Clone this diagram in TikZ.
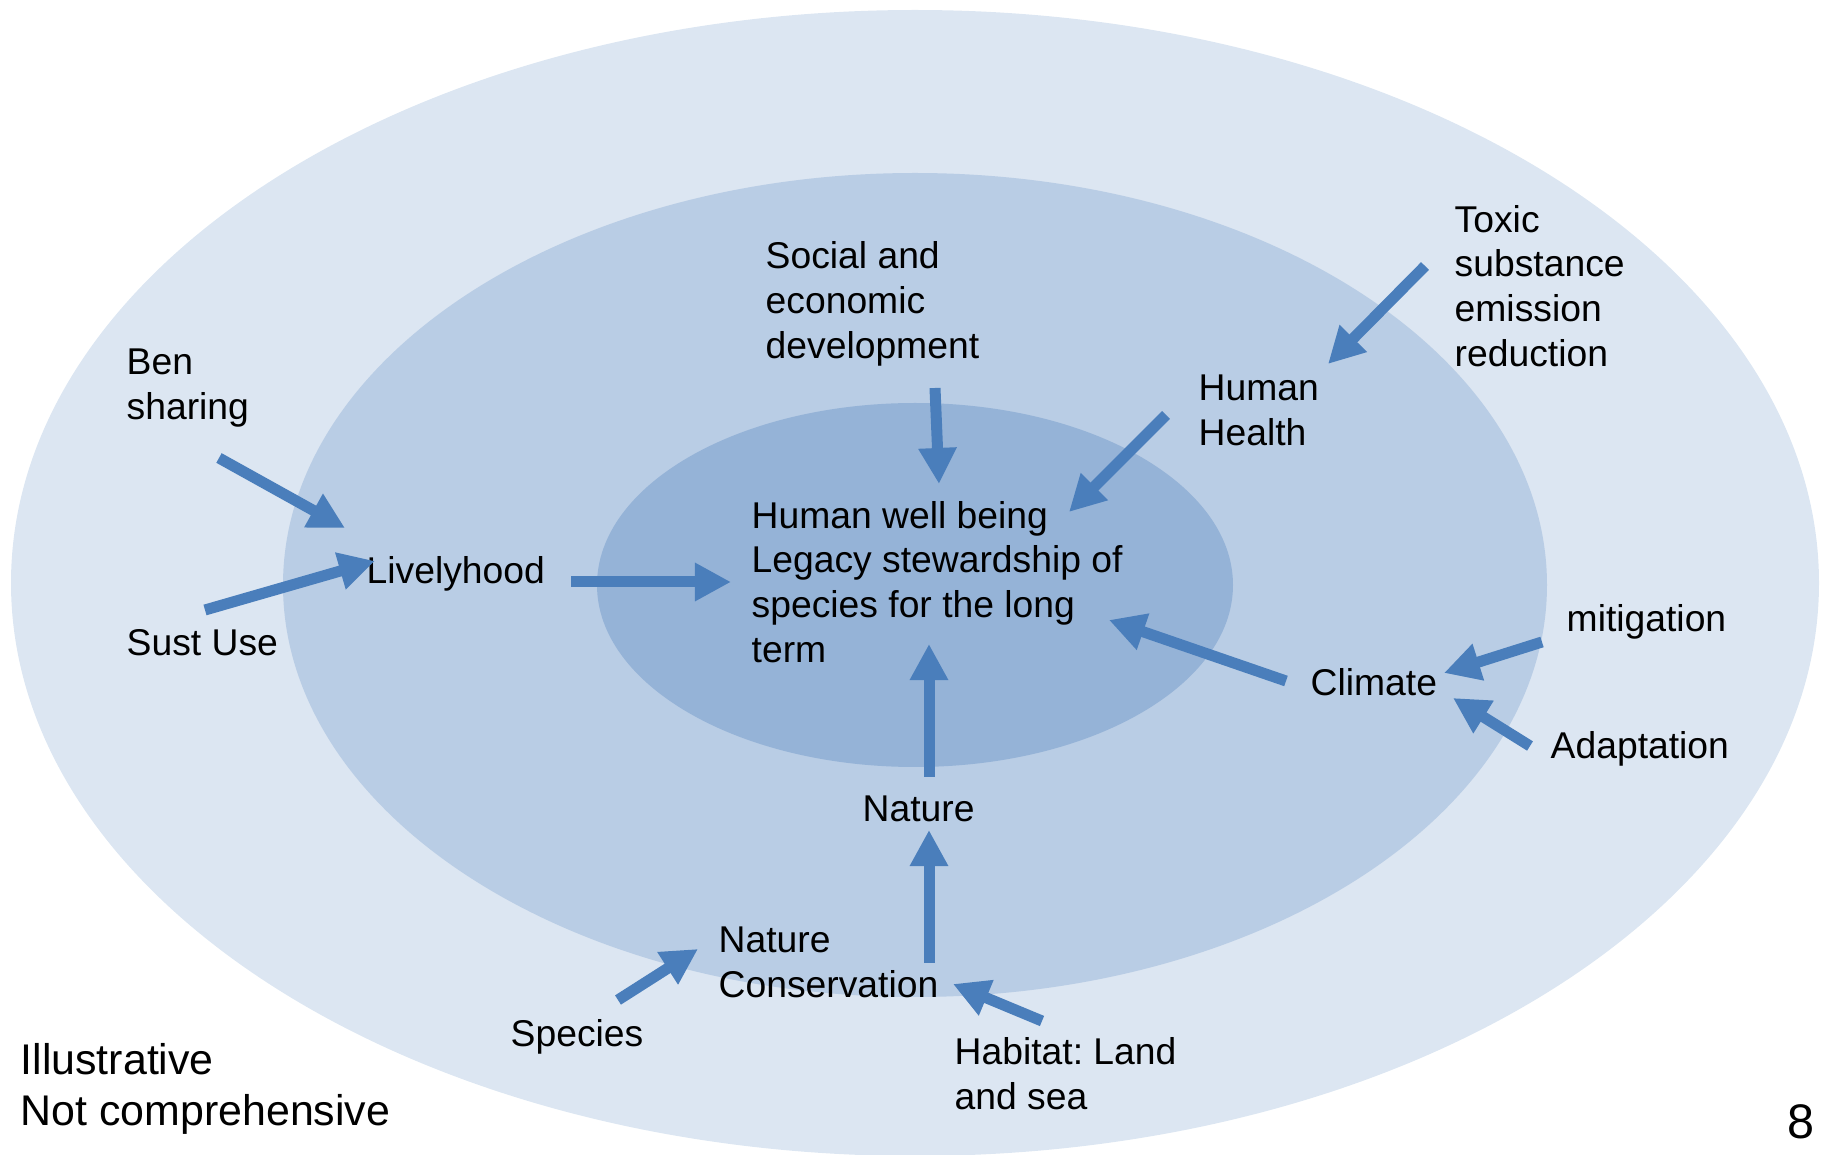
\documentclass[tikz,border=0pt]{standalone}
\usepackage{fontspec}
\setmainfont{Liberation Sans}
\frenchspacing
\usetikzlibrary{arrows.meta, positioning}
\definecolor{ringout}{HTML}{DCE6F2}
\definecolor{ringmid}{HTML}{B9CDE5}
\definecolor{ringin}{HTML}{95B3D7}
\definecolor{flowblue}{HTML}{4A7EBB}
\tikzset{>={Triangle[length=0.36cm, width=0.36cm]}}
\tikzset{flow/.style = {draw=flowblue, line width=0.11cm, ->}}
\tikzset{lbl/.style = {anchor=west, inner sep=0, align=left, font=\fontsize{10.6}{12.75}\selectfont}}
\tikzset{note/.style = {anchor=west, inner sep=0, align=left, font=\fontsize{12.2}{14.6}\selectfont}}

\begin{document}
\begin{tikzpicture}[x=0.01cm, y=-0.01cm]
  \useasboundingbox (0,0) rectangle (1826,1155);
  % rings
  \fill[ringout] (915,583) ellipse [x radius=904, y radius=573];
  \fill[ringmid] (915,585) ellipse [x radius=632, y radius=412];
  \fill[ringin]  (915,585) ellipse [x radius=318, y radius=182];

  % labels
  \node[lbl] (core) at (751,582) {Human well being\\Legacy stewardship of\\species for the long\\term};
  \node[lbl] (ben) at (126,388) {Ben\\sharing};
  \node[lbl] (sust) at (126,643) {Sust Use};
  \node[lbl] (lively) at (366,574) {Livelyhood};
  \node[lbl] (social) at (765,304) {Social and\\economic\\development};
  \node[lbl] (toxic) at (1454,286) {Toxic\\substance\\emission\\reduction};
  \node[lbl] (health) at (1198,410) {Human\\Health};
  \node[lbl] (mitig) at (1566,622) {mitigation};
  \node[lbl] (climate) at (1310,682) {Climate};
  \node[lbl] (adapt) at (1550,749) {Adaptation};
  \node[lbl] (nature) at (862,809) {Nature};
  \node[lbl] (natcons) at (718,962) {Nature\\Conservation};
  \node[lbl] (species) at (510,1037) {Species};
  \node[lbl] (habitat) at (954,1074) {Habitat: Land\\and sea};
  \node[note] (illus) at (20,1089) {Illustrative\\Not comprehensive};
  \node[font=\fontsize{13.8}{16}\selectfont, inner sep=0] (pagenum) at (1801,1122) {8};

  % arrow ends
  \coordinate (ben-a) at (219,458);      \coordinate (ben-b) at (345,528);
  \coordinate (sust-a) at (205,610);     \coordinate (sust-b) at (375,561);
  \coordinate (lively-a) at (571,582);   \coordinate (lively-b) at (731,582);
  \coordinate (social-a) at (935,388);   \coordinate (social-b) at (939,484);
  \coordinate (health-a) at (1166,415);  \coordinate (health-b) at (1069,512);
  \coordinate (toxic-a) at (1425,266);   \coordinate (toxic-b) at (1328,364);
  \coordinate (climate-a) at (1286,681); \coordinate (climate-b) at (1109,620);
  \coordinate (mitig-a) at (1542,642);   \coordinate (mitig-b) at (1444,673);
  \coordinate (adapt-a) at (1530,746);   \coordinate (adapt-b) at (1453,698);
  \coordinate (nature-a) at (929,777);   \coordinate (nature-b) at (929,644);
  \coordinate (natcons-a) at (929,963);  \coordinate (natcons-b) at (929,830);
  \coordinate (species-a) at (618,1000); \coordinate (species-b) at (698,949);
  \coordinate (habitat-a) at (1042,1021); \coordinate (habitat-b) at (953,984);

  \foreach \i in {ben, sust, lively, social, health, toxic, climate, mitig, adapt, nature, natcons, species, habitat}
  {
    \draw[flow] (\i-a) -- (\i-b);
  }
\end{tikzpicture}
\end{document}
